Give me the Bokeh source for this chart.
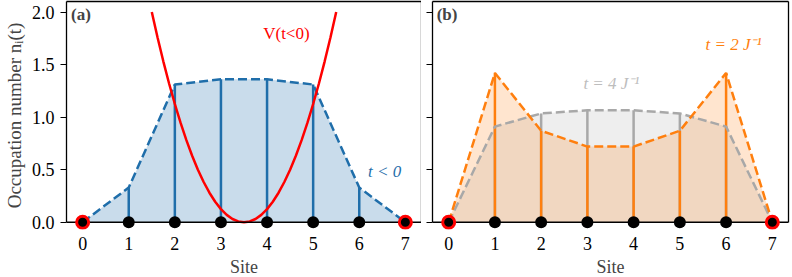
from bokeh.plotting import figure
from bokeh.layouts import row
from bokeh.models import Range1d, LinearAxis, FixedTicker, Label, CustomJSTickFormatter
from bokeh.embed import file_html
from bokeh.resources import INLINE

# ---------------- data ----------------
sites = [0, 1, 2, 3, 4, 5, 6, 7]
site_labels = ["0", "1", "2", "3", "4", "5", "6", "7"]
edge_sites = [0, 7]

n_before = [0.0, 0.33, 1.31, 1.36, 1.36, 1.31, 0.33, 0.0]     # t < 0
n_t2 = [0.0, 1.42, 0.87, 0.72, 0.72, 0.87, 1.42, 0.0]        # t = 2 J^-1
n_t4 = [0.0, 0.91, 1.035, 1.065, 1.065, 1.035, 0.91, 0.0]    # t = 4 J^-1

# trap potential V(t<0)
v_x = [1.5, 1.625, 1.75, 1.875, 2.0, 2.125, 2.25, 2.375, 2.5, 2.625, 2.75, 2.875,
       3.0, 3.125, 3.25, 3.375, 3.5, 3.625, 3.75, 3.875, 4.0, 4.125, 4.25, 4.375,
       4.5, 4.625, 4.75, 4.875, 5.0, 5.125, 5.25, 5.375, 5.5]
v_y = [2.0, 1.758, 1.531, 1.320, 1.125, 0.945, 0.781, 0.633, 0.5, 0.383, 0.281, 0.195,
       0.125, 0.070, 0.031, 0.008, 0.0, 0.008, 0.031, 0.070, 0.125, 0.195, 0.281, 0.383,
       0.5, 0.633, 0.781, 0.945, 1.125, 1.320, 1.531, 1.758, 2.0]

y_ticks = [0.0, 0.5, 1.0, 1.5, 2.0]
y_tick_labels = ["0.0", "0.5", "1.0", "1.5", "2.0"]

X_START, X_END = -0.35, 7.35
Y_TOP = 2.1
Y_BOTTOM = -0.069

FONT = "'Liberation Serif', serif"
FS = "17px"
TICK_FS = "18px"

BLUE = "#1f6eaa"
ORANGE = "#ff7f0e"
GRAY = "#a8a8a8"
RED = "#ff0000"


def make_panel(border_left, border_right, frame_width, show_ylabels):
    p = figure(frame_width=frame_width, frame_height=228,
               x_range=Range1d(X_START, X_END), y_range=Range1d(Y_BOTTOM, Y_TOP),
               output_backend="svg", toolbar_location=None,
               min_border_left=border_left, min_border_right=border_right,
               min_border_top=1, min_border_bottom=40)
    p.outline_line_color = None
    p.grid.visible = False
    p.background_fill_color = "white"
    p.border_fill_color = "white"

    xa = p.xaxis[0]
    xa.ticker = FixedTicker(ticks=sites)
    xa.major_label_overrides = {s: l for s, l in zip(sites, site_labels)}
    xa.axis_line_color = None
    xa.major_tick_line_color = None
    xa.minor_tick_line_color = None
    xa.major_label_standoff = 1
    xa.major_label_text_font = FONT
    xa.major_label_text_font_size = TICK_FS
    xa.major_label_text_color = "black"
    xa.axis_label = "Site"
    xa.axis_label_text_font = FONT
    xa.axis_label_text_font_size = "18px"
    xa.axis_label_text_font_style = "normal"
    xa.axis_label_standoff = 4

    ya = p.yaxis[0]
    ya.ticker = FixedTicker(ticks=y_ticks)
    ya.bounds = (0, Y_TOP)
    ya.axis_line_color = "black"
    ya.axis_line_width = 1.3
    ya.major_tick_line_color = "black"
    ya.major_tick_line_width = 1.2
    ya.major_tick_out = 6
    ya.major_tick_in = 0
    ya.minor_tick_line_color = None
    ya.major_label_text_font = FONT
    ya.major_label_text_color = "black"
    if show_ylabels:
        ya.major_label_overrides = {t: l for t, l in zip(y_ticks, y_tick_labels)}
        ya.major_label_text_font_size = TICK_FS
        ya.major_label_standoff = 6
        ya.axis_label = "Occupation number nᵢ(t)"
        ya.axis_label_text_font = FONT
        ya.axis_label_text_font_size = "19px"
        ya.axis_label_text_font_style = "normal"
        ya.axis_label_standoff = 4
    else:
        ya.formatter = CustomJSTickFormatter(code="return '';")
        ya.major_label_standoff = 0

    for loc in ("right", "above"):
        ax = LinearAxis(ticker=FixedTicker(ticks=[]), axis_line_color="black",
                        axis_line_width=1.3,
                        major_tick_line_color=None, minor_tick_line_color=None,
                        major_tick_out=0, major_tick_in=0, minor_tick_out=0, minor_tick_in=0,
                        major_label_standoff=0)
        if loc == "right":
            ax.bounds = (0, Y_TOP)
        p.add_layout(ax, loc)

    return p


# ---------------- panel (a) ----------------
pa = make_panel(63, 0, 355, True)
pa.varea(x=sites, y1=0, y2=n_before, fill_color=BLUE, fill_alpha=0.24)
pa.segment(x0=sites, y0=0, x1=sites, y1=n_before, line_color=BLUE, line_width=2.5)
pa.line(sites, n_before, line_color=BLUE, line_width=2.5, line_dash="9 4")
pa.line(v_x, v_y, line_color=RED, line_width=2.5)
pa.segment(x0=[X_START], y0=[0], x1=[X_END], y1=[0], line_color="black", line_width=1.3)
pa.scatter(sites, [0] * len(sites), size=12, fill_color="black", line_color=None)
pa.scatter(edge_sites, [0] * len(edge_sites), size=12, fill_color="black",
           line_color=RED, line_width=3)

pa.add_layout(Label(x=-0.25, y=2.07, text="(a)", text_font=FONT, text_font_size=FS,
                    text_font_style="bold", text_baseline="top", text_align="left"))
pa.add_layout(Label(x=4.42, y=1.8, text="V(t<0)", text_font=FONT, text_font_size=FS,
                    text_color=RED, text_baseline="middle", text_align="center"))
pa.add_layout(Label(x=6.55, y=0.48, text="t < 0", text_font=FONT, text_font_size=FS,
                    text_font_style="italic", text_color=BLUE,
                    text_baseline="middle", text_align="center"))

# ---------------- panel (b) ----------------
pb = make_panel(11, 2, 356, False)
pb.varea(x=sites, y1=0, y2=n_t4, fill_color=GRAY, fill_alpha=0.2)
pb.varea(x=sites, y1=0, y2=n_t2, fill_color=ORANGE, fill_alpha=0.2)
pb.segment(x0=sites, y0=0, x1=sites, y1=n_t4, line_color=GRAY, line_width=2.5)
pb.segment(x0=sites, y0=0, x1=sites, y1=n_t2, line_color=ORANGE, line_width=2.5)
pb.line(sites, n_t4, line_color=GRAY, line_width=2.5, line_dash="9 4")
pb.line(sites, n_t2, line_color=ORANGE, line_width=2.5, line_dash="9 4")
pb.segment(x0=[X_START], y0=[0], x1=[X_END], y1=[0], line_color="black", line_width=1.3)
pb.scatter(sites, [0] * len(sites), size=12, fill_color="black", line_color=None)
pb.scatter(edge_sites, [0] * len(edge_sites), size=12, fill_color="black",
           line_color=RED, line_width=3)

pb.add_layout(Label(x=-0.26, y=2.07, text="(b)", text_font=FONT, text_font_size=FS,
                    text_font_style="bold", text_baseline="top", text_align="left"))
pb.add_layout(Label(x=6.16, y=1.69, text="t = 2 J⁻¹", text_font=FONT, text_font_size=FS,
                    text_font_style="italic", text_color=ORANGE,
                    text_baseline="middle", text_align="center"))
pb.add_layout(Label(x=3.52, y=1.32, text="t = 4 J⁻¹", text_font=FONT, text_font_size=FS,
                    text_font_style="italic", text_color="#bdbdbd",
                    text_baseline="middle", text_align="center"))

layout = row(pa, pb)
open("out.html", "w").write(file_html(layout, INLINE))
